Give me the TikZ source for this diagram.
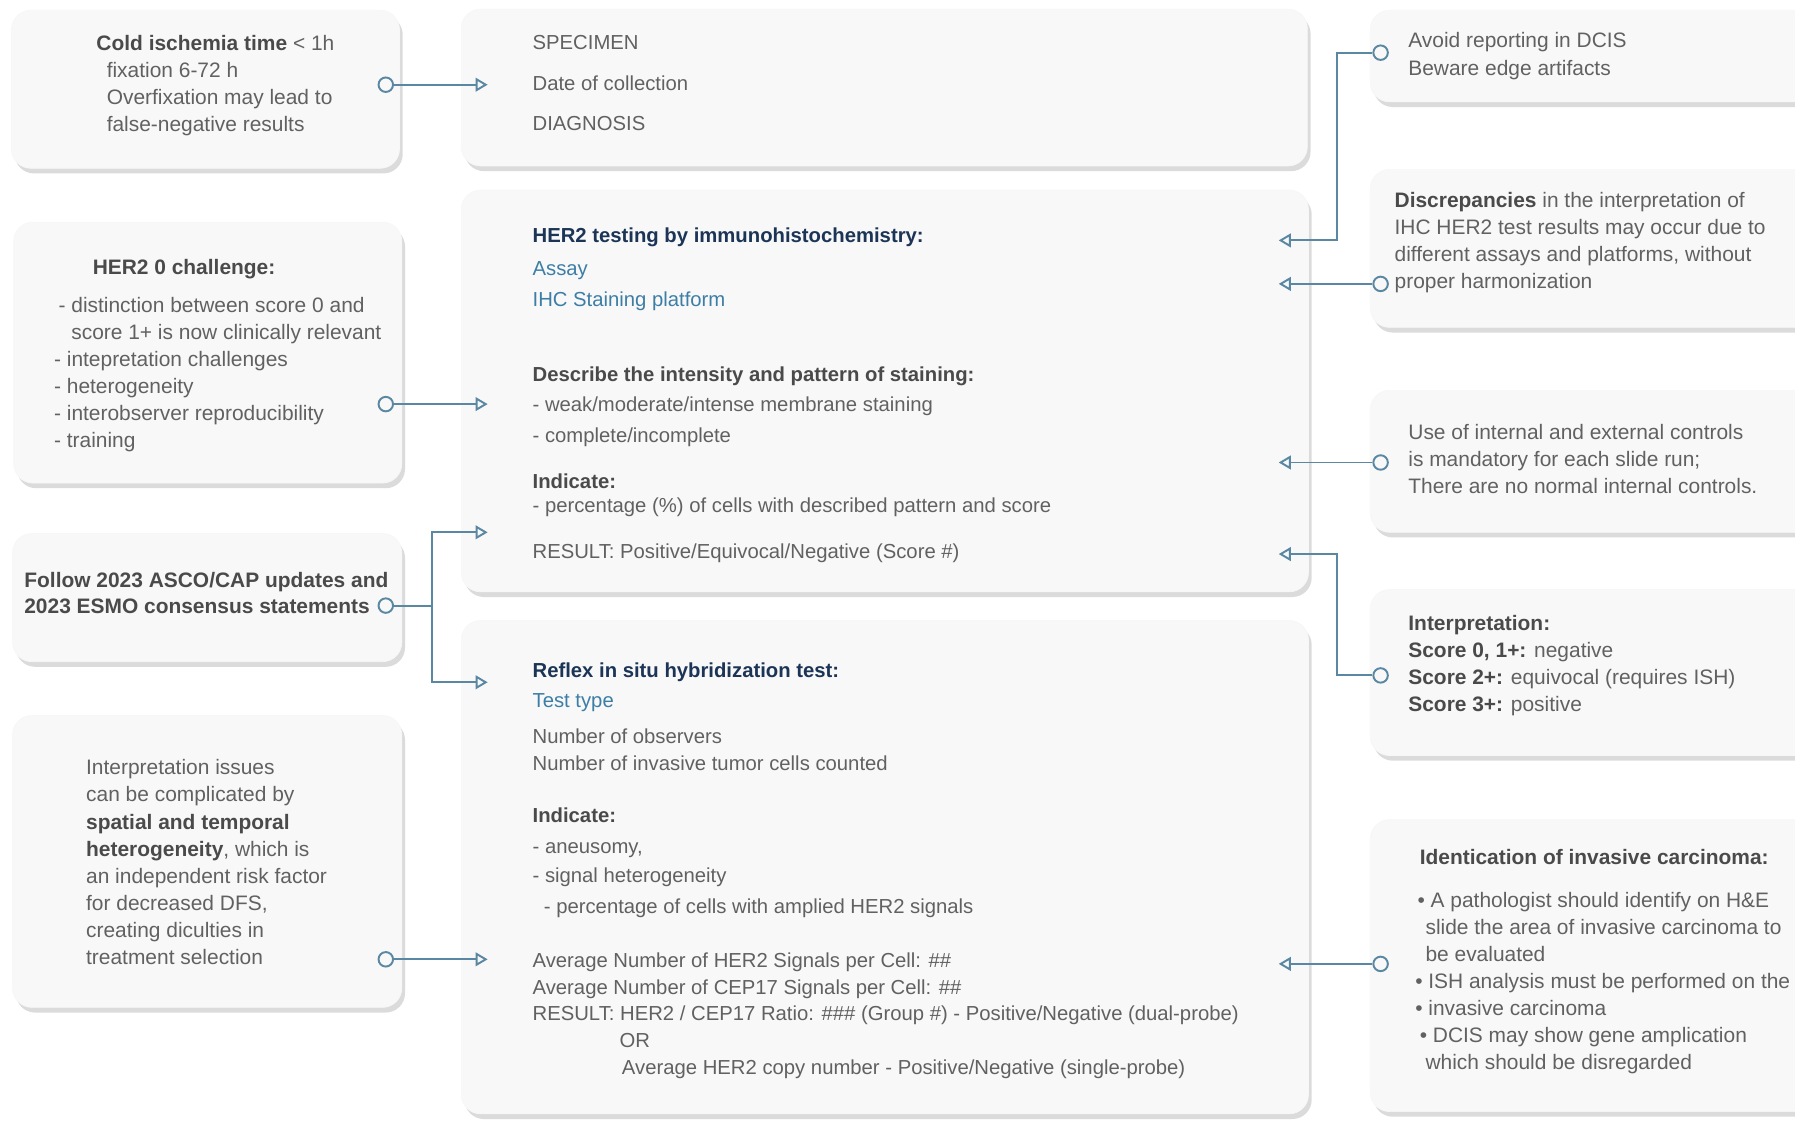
\documentclass[tikz,border=0pt]{standalone}
\usepackage{fontspec}
\setmainfont{Liberation Sans}
\usepackage{xcolor}
\usetikzlibrary{arrows.meta,positioning,fit,shadows}
\definecolor{ink}{HTML}{616161}
\definecolor{inkdark}{HTML}{4A4A4A}
\definecolor{navy}{HTML}{1C3557}
\definecolor{teal}{HTML}{3D7EA6}
\definecolor{wire}{HTML}{5A87A2}
\definecolor{panelfill}{HTML}{F8F8F8}

\begin{document}
\begin{tikzpicture}[
    x=0.025cm, y=-0.025cm,
    panel/.style={fill=panelfill,draw=black!3,rounded corners=12pt,inner sep=0pt,
      drop shadow={shadow xshift=2pt,shadow yshift=-3.2pt,fill=black,opacity=0.14}},
    txt/.style={anchor=north west,inner sep=0pt,align=left,text=ink,font=\fontsize{13}{16.8}\selectfont},
    midtxt/.style={txt,font=\fontsize{12.6}{16.6}\selectfont},
    dot/.style={circle,draw=wire,line width=1.2pt,minimum size=9pt,inner sep=0pt},
    link/.style={draw=wire,line width=1.2pt},
    arrow/.style={link,-{Triangle[open,length=7.5pt,width=8.5pt]}}
  ]
    \fill[white] (0,0) rectangle (1568,979);
    \useasboundingbox (0,0) rectangle (1568,979);

    \node[panel,fit={(10,9) (349,147)}] (cold) {};
    \node[panel,fit={(12,194) (351,422)}] (zero) {};
    \node[panel,fit={(11,466) (351,578)}] (asco) {};
    \node[panel,fit={(11,625) (351,880)}] (issue) {};

    \node[panel,fit={(403,8) (1142,145)}] (spec) {};
    \node[panel,fit={(403,166) (1143,517)}] (ihc) {};
    \node[panel,fit={(403,542) (1143,973)}] (ish) {};

    \node[panel,fit={(1197,9) (1595,89)}] (dcis) {};
    \node[panel,fit={(1197,148) (1595,286)}] (discr) {};
    \node[panel,fit={(1197,341) (1595,465)}] (ctrl) {};
    \node[panel,fit={(1197,515) (1595,660)}] (interp) {};
    \node[panel,fit={(1197,716) (1595,971)}] (ident) {};

    \node[txt] (coldtxt) at (84,30.4) {{\color{inkdark}\bfseries Cold ischemia time} < 1h\\
      \hspace*{6.4pt}fixation 6-72 h\\
      \hspace*{6.4pt}Overfixation may lead to\\
      \hspace*{6.4pt}false-negative results};
    \node[txt] (zerotxt) at (47,226.4) {\hspace*{24pt}{\color{inkdark}\bfseries HER2 0 challenge:}\\[6.7pt]
      \hspace*{2.8pt}- distinction between score 0 and\\
      \hspace*{10.7pt}score 1+ is now clinically relevant\\
      - intepretation challenges\\
      - heterogeneity\\
      - interobserver reproducibility\\
      - training};
    \node[txt,text=inkdark,font=\fontsize{13}{16.4}\selectfont\bfseries] (ascotxt) at (21,499.4) {Follow 2023 ASCO/CAP updates and\\
      2023 ESMO consensus statements};
    \node[txt] (issuetxt) at (75,663.4) {Interpretation issues\\
      can be complicated by\\
      {\color{inkdark}\bfseries spatial and temporal}\\
      {\color{inkdark}\bfseries heterogeneity}, which is\\
      an independent risk factor\\
      for decreased DFS,\\
      creating diculties in\\
      treatment selection};

    \node[midtxt] (spectxt) at (465,30.6) {SPECIMEN\\[8.6pt]
      Date of collection\\[8.6pt]
      DIAGNOSIS};
    \node[midtxt] (ihctxt) at (465,198.6) {{\color{navy}\bfseries HER2 testing by immunohistochemistry:}\\[4pt]
      {\color{teal}Assay}\\[2.6pt]
      {\color{teal}IHC Staining platform}\\[30.3pt]
      {\color{inkdark}\bfseries Describe the intensity and pattern of staining:}\\[1.9pt]
      - weak/moderate/intense membrane staining\\[2.6pt]
      - complete/incomplete\\[11.8pt]
      {\color{inkdark}\bfseries Indicate:}\\[-1.7pt]
      - percentage (\%) of cells with described pattern and score\\[11.8pt]
      RESULT: Positive/Equivocal/Negative (Score \#)};
    \node[midtxt] (ishtxt) at (465,578.6) {{\color{navy}\bfseries Reflex in situ hybridization test:}\\[1.9pt]
      {\color{teal}Test type}\\[6.2pt]
      Number of observers\\
      Number of invasive tumor cells counted\\[15.4pt]
      {\color{inkdark}\bfseries Indicate:}\\[2.6pt]
      - aneusomy,\\[1.9pt]
      - signal heterogeneity\\[2.6pt]
      \hspace*{7pt}- percentage of cells with amplied HER2 signals\\[16.8pt]
      Average Number of HER2 Signals per Cell: \#\#\\
      Average Number of CEP17 Signals per Cell: \#\#\\
      RESULT: HER2 / CEP17 Ratio: \#\#\# (Group \#) - Positive/Negative (dual-probe)\\
      \hspace*{54pt}OR\\
      \hspace*{55.5pt}Average HER2 copy number - Positive/Negative (single-probe)};

    \node[txt] (dcistxt) at (1230,28.4) {Avoid reporting in DCIS\\
      Beware edge artifacts};
    \node[txt] (discrtxt) at (1218,167.4) {{\color{inkdark}\bfseries Discrepancies} in the interpretation of\\
      IHC HER2 test results may occur due to\\
      different assays and platforms, without\\
      proper harmonization};
    \node[txt] (ctrltxt) at (1230,370.4) {Use of internal and external controls\\
      is mandatory for each slide run;\\
      There are no normal internal controls.};
    \node[txt] (interptxt) at (1230,537.4) {{\color{inkdark}\bfseries Interpretation:}\\
      {\color{inkdark}\bfseries Score 0, 1+:} negative\\
      {\color{inkdark}\bfseries Score 2+:} equivocal (requires ISH)\\
      {\color{inkdark}\bfseries Score 3+:} positive};
    \node[txt] (identtxt) at (1236,741.4) {\hspace*{2.8pt}{\color{inkdark}\bfseries Identication of invasive carcinoma:}\\[10.2pt]
      \hspace*{1.4pt}• A pathologist should identify on H\&E\\
      \hspace*{6.4pt}slide the area of invasive carcinoma to\\
      \hspace*{6.4pt}be evaluated\\
      • ISH analysis must be performed on the\\
      • invasive carcinoma\\
      \hspace*{2.8pt}• DCIS may show gene amplication\\
      \hspace*{6.4pt}which should be disregarded};

    \node[dot] (coldo) at (337,74) {};
    \node[dot] (zeroo) at (337,353) {};
    \node[dot] (ascoo) at (337,529) {};
    \node[dot] (issueo) at (337,838) {};
    \node[dot] (dciso) at (1206,46) {};
    \node[dot] (discro) at (1206,248) {};
    \node[dot] (ctrlo) at (1206,404) {};
    \node[dot] (interpo) at (1206,590) {};
    \node[dot] (idento) at (1206,842) {};

    \coordinate (specin) at (426,74);
    \coordinate (ihcin) at (426,353);
    \coordinate (ihcin2) at (426,465);
    \coordinate (ishin) at (426,596);
    \coordinate (ishin2) at (426,838);
    \coordinate (split) at (377,529);
    \coordinate (ihcr1) at (1117,210);
    \coordinate (ihcr2) at (1117,248);
    \coordinate (ihcr3) at (1117,404);
    \coordinate (ihcr4) at (1117,484);
    \coordinate (ishr) at (1117,842);

    \draw[arrow] (coldo) -- (specin);
    \draw[arrow] (zeroo) -- (ihcin);
    \draw[link] (ascoo) -- (split);
    \draw[arrow] (split) |- (ihcin2);
    \draw[arrow] (split) |- (ishin);
    \draw[arrow] (issueo) -- (ishin2);
    \draw[arrow] (dciso) -- ++(-38,0) |- (ihcr1);
    \draw[arrow] (discro) -- (ihcr2);
    \draw[arrow] (ctrlo) -- (ihcr3);
    \draw[arrow] (interpo) -- ++(-38,0) |- (ihcr4);
    \draw[arrow] (idento) -- (ishr);
\end{tikzpicture}
\end{document}
